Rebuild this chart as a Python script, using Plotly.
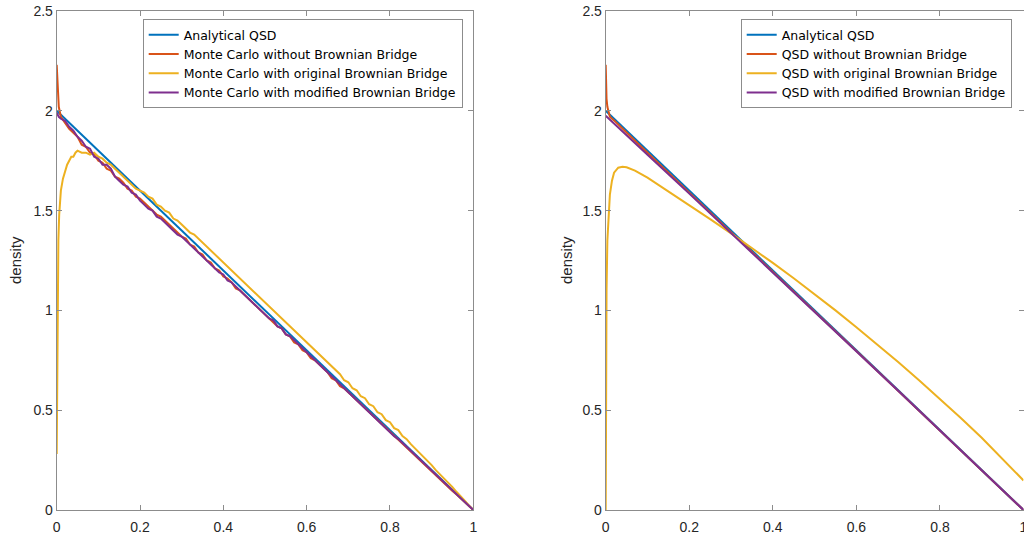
import plotly.graph_objects as go

# ---------------- data ----------------
analytic_x = [0.0, 0.25, 0.5, 0.75, 1.0]
analytic_y = [2.0, 1.5, 1.0, 0.5, 0.0]

# Left panel: Monte Carlo estimates
mc_x = [0.0, 0.002, 0.005] + [round(0.01 * i, 2) for i in range(1, 101)]
mc_without = [2.23, 2.10, 2.02,
    1.97, 1.94, 1.91, 1.89, 1.87, 1.83, 1.82, 1.79, 1.78, 1.75,
    1.74, 1.71, 1.70, 1.67, 1.66, 1.64, 1.61, 1.60, 1.57, 1.56,
    1.54, 1.52, 1.50, 1.48, 1.47, 1.45, 1.43, 1.41, 1.39, 1.37,
    1.36, 1.33, 1.32, 1.29, 1.28, 1.25, 1.24, 1.21, 1.20, 1.17,
    1.16, 1.14, 1.11, 1.10, 1.08, 1.06, 1.04, 1.02, 1.00, 0.98,
    0.96, 0.94, 0.92, 0.91, 0.88, 0.87, 0.84, 0.83, 0.80, 0.79,
    0.76, 0.75, 0.73, 0.71, 0.69, 0.66, 0.65, 0.62, 0.61, 0.59,
    0.57, 0.55, 0.53, 0.51, 0.49, 0.47, 0.45, 0.43, 0.41, 0.39,
    0.37, 0.35, 0.33, 0.31, 0.29, 0.27, 0.25, 0.235, 0.21, 0.195,
    0.175, 0.155, 0.135, 0.115, 0.095, 0.078, 0.058, 0.038, 0.019, 0.0]
mc_modified = [1.99, 1.98, 1.97,
    1.96, 1.95, 1.92, 1.90, 1.87, 1.85, 1.82, 1.81, 1.77, 1.76,
    1.73, 1.73, 1.71, 1.67, 1.65, 1.63, 1.62, 1.59, 1.58, 1.55,
    1.53, 1.51, 1.50, 1.47, 1.46, 1.44, 1.42, 1.40, 1.38, 1.37,
    1.35, 1.33, 1.31, 1.29, 1.27, 1.25, 1.23, 1.21, 1.19, 1.18,
    1.15, 1.14, 1.12, 1.10, 1.08, 1.06, 1.04, 1.02, 1.00, 0.98,
    0.96, 0.95, 0.92, 0.91, 0.88, 0.87, 0.85, 0.83, 0.81, 0.79,
    0.77, 0.75, 0.73, 0.71, 0.69, 0.67, 0.65, 0.63, 0.61, 0.59,
    0.57, 0.55, 0.53, 0.51, 0.49, 0.47, 0.45, 0.43, 0.41, 0.39,
    0.37, 0.355, 0.335, 0.315, 0.295, 0.275, 0.255, 0.235, 0.215, 0.195,
    0.175, 0.155, 0.135, 0.115, 0.097, 0.077, 0.058, 0.038, 0.019, 0.0]

mc_orig_x = [0.0, 0.001, 0.002, 0.004, 0.006, 0.008, 0.01, 0.015, 0.02, 0.025,
             0.03, 0.035, 0.04, 0.045, 0.05] + [round(0.01 * i, 2) for i in range(6, 101)]
mc_original = [0.28, 0.75, 1.05, 1.35, 1.48, 1.55, 1.60, 1.66, 1.70, 1.73,
    1.75, 1.77, 1.77, 1.79, 1.80,
    1.79, 1.79, 1.78, 1.79, 1.77, 1.76, 1.74, 1.73, 1.71, 1.69,
    1.67, 1.65, 1.63, 1.61, 1.60, 1.59, 1.57, 1.56, 1.53, 1.52,
    1.50, 1.49, 1.46, 1.45, 1.43, 1.41, 1.39, 1.38, 1.36, 1.34,
    1.32, 1.30, 1.28, 1.26, 1.24, 1.22, 1.20, 1.18, 1.16, 1.14,
    1.12, 1.10, 1.08, 1.06, 1.04, 1.02, 1.00, 0.98, 0.96, 0.94,
    0.92, 0.90, 0.88, 0.86, 0.84, 0.82, 0.80, 0.78, 0.76, 0.74,
    0.72, 0.70, 0.68, 0.65, 0.64, 0.61, 0.60, 0.57, 0.56, 0.53,
    0.52, 0.49, 0.48, 0.45, 0.44, 0.41, 0.40, 0.37, 0.355, 0.33,
    0.31, 0.29, 0.27, 0.245, 0.225, 0.20, 0.18, 0.16, 0.14, 0.115,
    0.09, 0.07, 0.045, 0.022, 0.0]

# Right panel: QSD estimates
qsd_wo_x = [0.0, 0.001, 0.002, 0.004, 0.007, 0.01, 0.02, 0.05, 0.1, 0.2, 0.3,
            0.4, 0.5, 0.6, 0.7, 0.8, 0.9, 1.0]
qsd_wo_y = [2.23, 2.12, 2.06, 2.02, 1.99, 1.97, 1.952, 1.89, 1.79, 1.59, 1.39,
            1.195, 0.995, 0.797, 0.598, 0.399, 0.2, 0.0]
qsd_mod_x = [0.0, 0.01, 0.02, 0.05, 0.1, 0.2, 0.3, 0.4, 0.5, 0.6, 0.7, 0.8, 0.9, 1.0]
qsd_mod_y = [1.975, 1.955, 1.937, 1.877, 1.78, 1.585, 1.388, 1.192, 0.994, 0.796,
             0.597, 0.398, 0.199, 0.0]
qsd_orig_x = [0.0, 0.0005, 0.001, 0.002, 0.004, 0.007, 0.01, 0.015, 0.02, 0.03,
              0.04, 0.05, 0.07, 0.1, 0.15, 0.2, 0.25, 0.3, 0.35, 0.4, 0.45, 0.5,
              0.55, 0.6, 0.65, 0.7, 0.75, 0.8, 0.85, 0.9, 0.95, 1.0]
qsd_orig_y = [0.0, 0.5, 0.8, 1.1, 1.35, 1.5, 1.58, 1.65, 1.69, 1.715,
              1.72, 1.717, 1.70, 1.665, 1.597, 1.527, 1.457, 1.386, 1.313, 1.238,
              1.161, 1.082, 1.0, 0.916, 0.83, 0.741, 0.65, 0.557, 0.461,
              0.362, 0.257, 0.148]

left_names = ["Analytical QSD", "Monte Carlo without Brownian Bridge",
              "Monte Carlo with original Brownian Bridge",
              "Monte Carlo with modified Brownian Bridge"]
right_names = ["Analytical QSD", "QSD without Brownian Bridge",
               "QSD with original Brownian Bridge",
               "QSD with modified Brownian Bridge"]
x_ticks = [0, 0.2, 0.4, 0.6, 0.8, 1]
y_ticks = [0, 0.5, 1, 1.5, 2, 2.5]

colors = ["#0072BD", "#D95319", "#EDB120", "#7E2F8E"]

# ---------------- figure ----------------
fig = go.Figure()
left_data = [(analytic_x, analytic_y), (mc_x, mc_without), (mc_orig_x, mc_original), (mc_x, mc_modified)]
right_data = [(analytic_x, analytic_y), (qsd_wo_x, qsd_wo_y), (qsd_orig_x, qsd_orig_y), (qsd_mod_x, qsd_mod_y)]

for (xs, ys), name, c in zip(left_data, left_names, colors):
    fig.add_trace(go.Scatter(x=xs, y=ys, mode="lines", name=name,
                             line=dict(color=c, width=2), xaxis="x", yaxis="y",
                             legend="legend"))
for (xs, ys), name, c in zip(right_data, right_names, colors):
    fig.add_trace(go.Scatter(x=xs, y=ys, mode="lines", name=name,
                             line=dict(color=c, width=2), xaxis="x2", yaxis="y2",
                             legend="legend2"))

W, H = 1024, 536
FONT = "Liberation Sans, Arial, Helvetica"
ax_common = dict(showgrid=False, zeroline=False, showline=True, linecolor="#8c8c8c",
                 linewidth=1, mirror="ticks", ticks="inside", ticklen=5,
                 automargin=False, ticklabeloverflow="allow",
                 tickcolor="#8c8c8c", tickfont=dict(family=FONT, size=14, color="#262626"))
xl = dict(ax_common, range=[0, 1], tickvals=x_ticks, ticklabelstandoff=4)
yl = dict(ax_common, range=[0, 2.5], tickvals=y_ticks)

ydom = [1 - 510 / H, 1 - 11 / H]
legend_common = dict(xanchor="left", yanchor="top", bgcolor="white",
                     bordercolor="#8c8c8c", borderwidth=1,
                     font=dict(family="DejaVu Sans", size=12.5, color="#000000"),
                     tracegroupgap=0)
fig.update_layout(
    width=W, height=H, margin=dict(l=0, r=0, t=0, b=0, autoexpand=False),
    paper_bgcolor="white", plot_bgcolor="white",
    xaxis=dict(xl, domain=[56.7 / W, 473.3 / W], anchor="y"),
    yaxis=dict(yl, domain=ydom, anchor="x"),
    xaxis2=dict(xl, domain=[605.7 / W, 1023.5 / W], anchor="y2"),
    yaxis2=dict(yl, domain=ydom, anchor="x2"),
    legend=dict(legend_common, x=142.7 / W, y=1 - 19 / H),
    legend2=dict(legend_common, x=740.7 / W, y=1 - 19 / H),
    showlegend=True,
    annotations=[
        dict(text="density", x=15 / W, y=1 - 260 / H, xref="paper", yref="paper",
             xanchor="center", yanchor="middle",
             textangle=-90, showarrow=False,
             font=dict(family=FONT, size=15, color="#262626")),
        dict(text="density", x=566 / W, y=1 - 260 / H, xref="paper", yref="paper",
             xanchor="center", yanchor="middle",
             textangle=-90, showarrow=False,
             font=dict(family=FONT, size=15, color="#262626")),
    ],
)

fig.write_html("out.html")
